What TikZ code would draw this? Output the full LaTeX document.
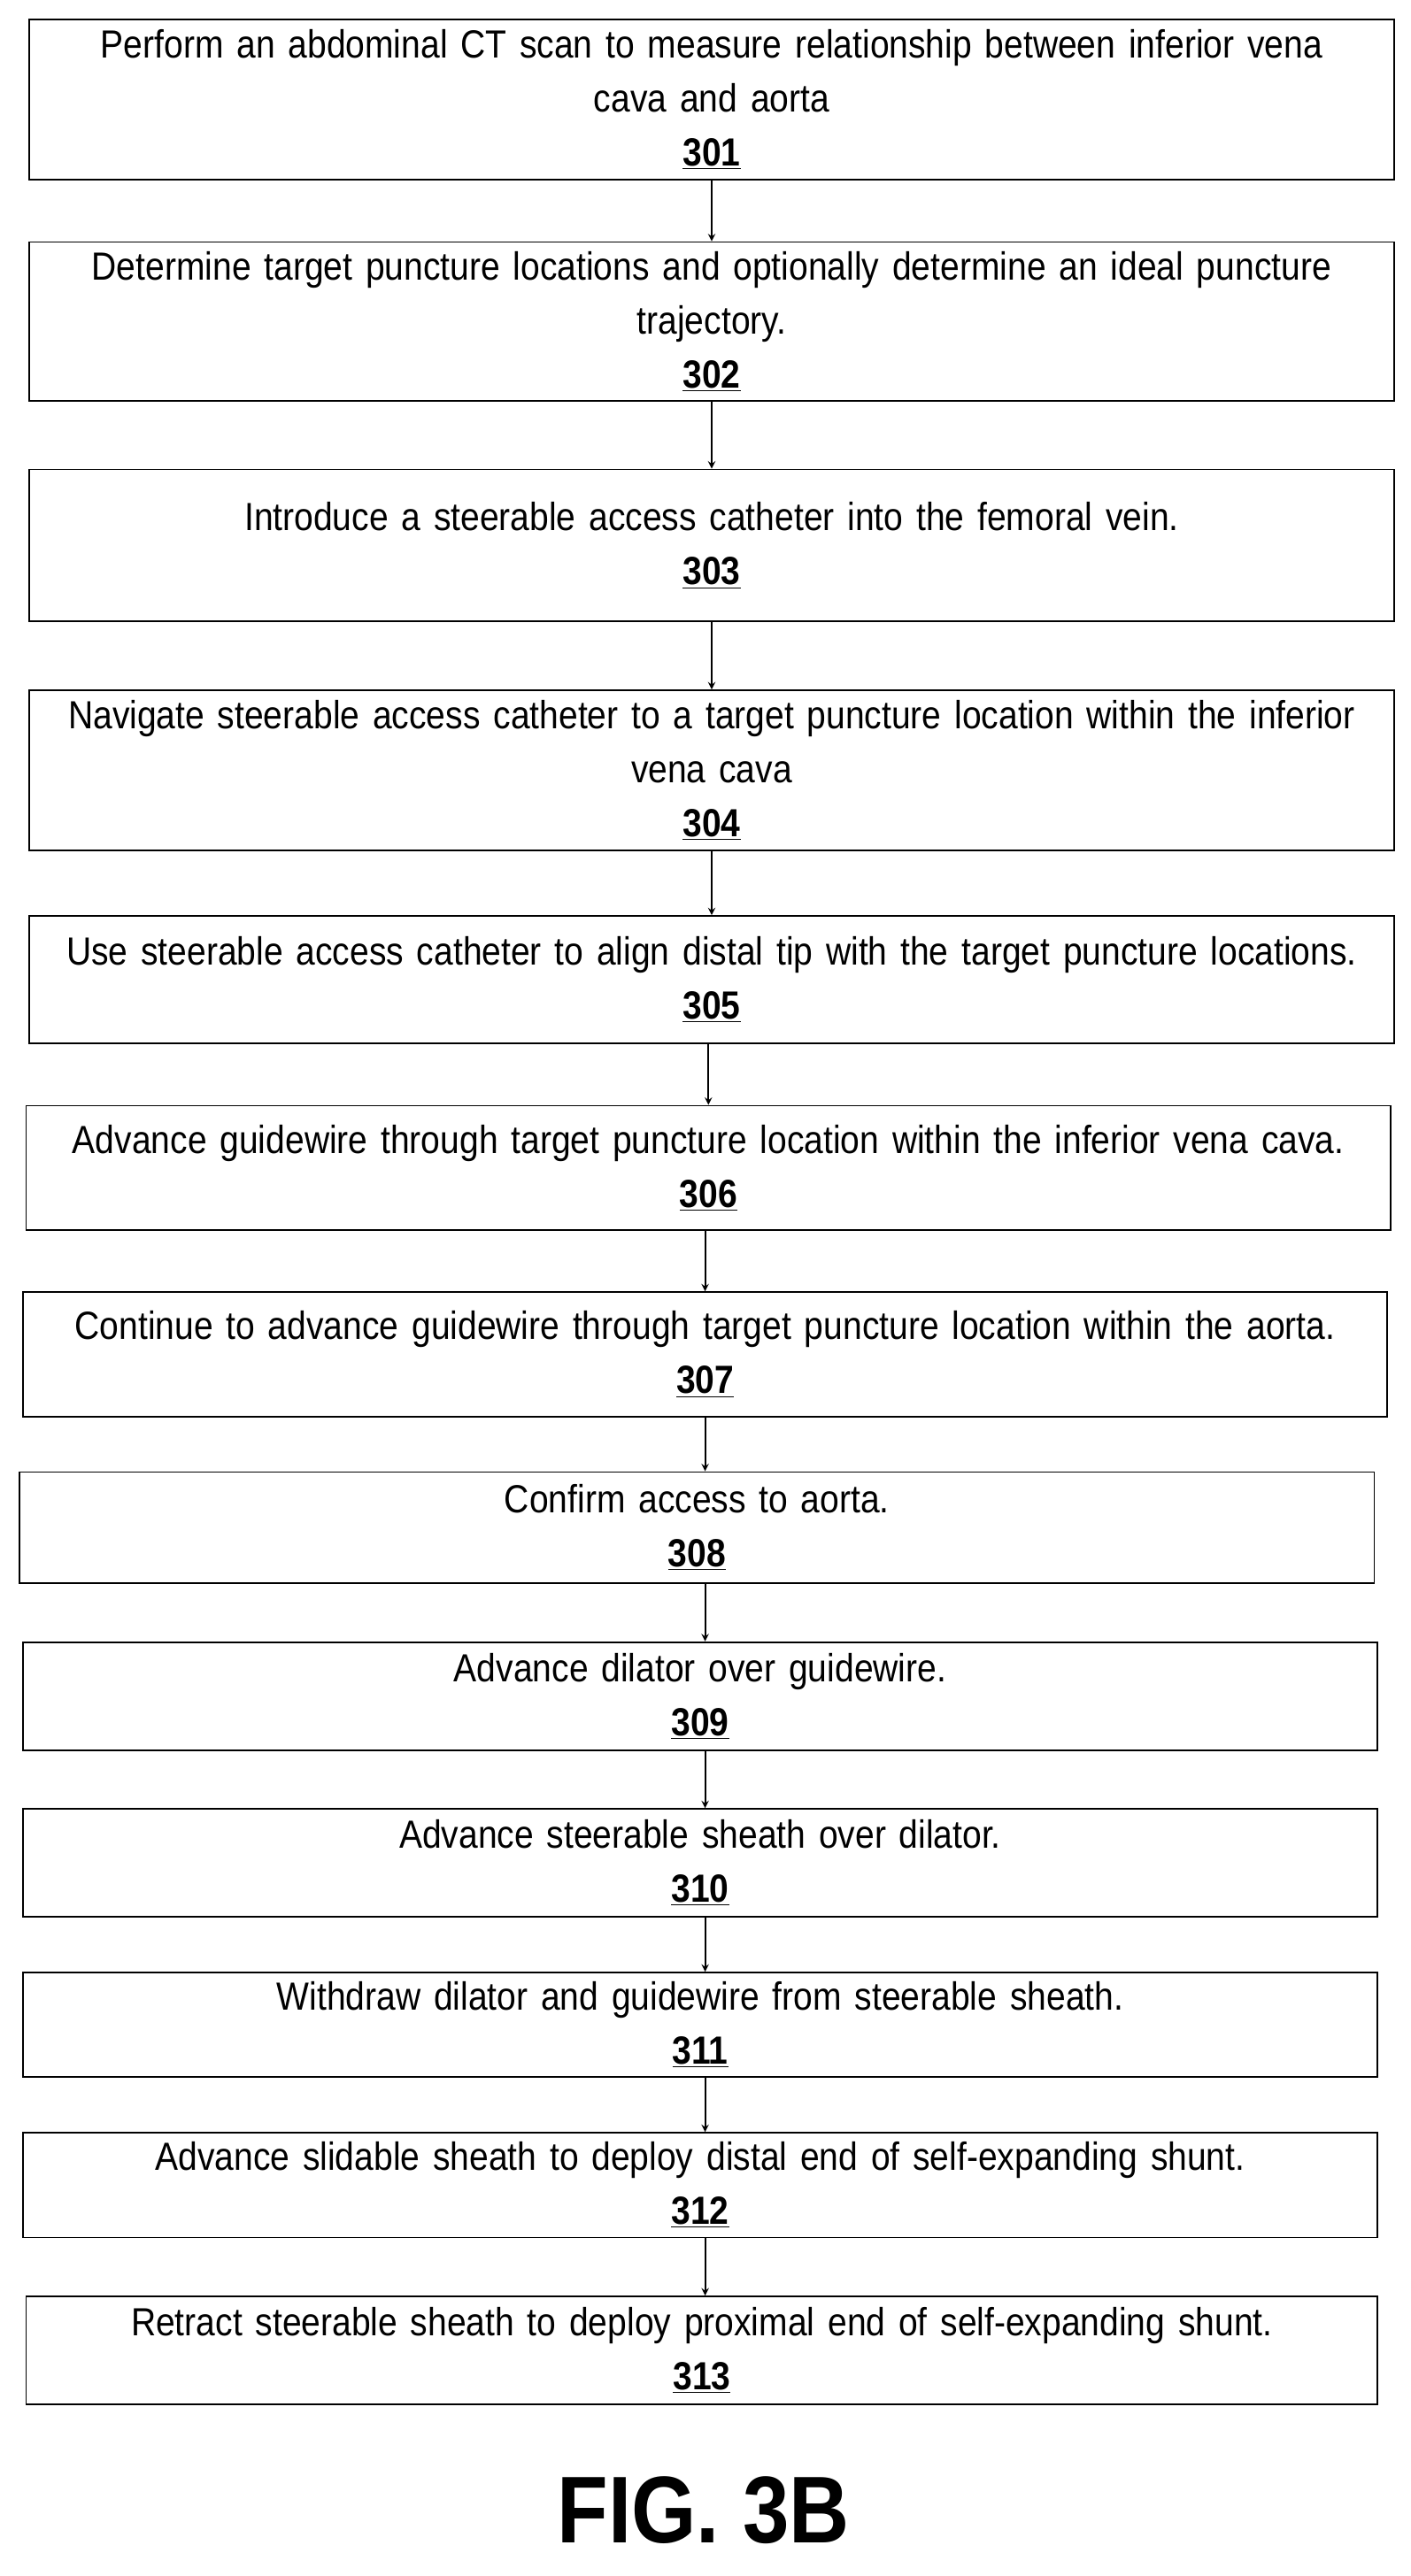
\documentclass[tikz,border=0pt]{standalone}
\usepackage{fontspec}
\setmainfont{Liberation Sans}
\newfontfamily\narrowfont[FakeStretch=0.88]{Liberation Sans}
\usetikzlibrary{positioning}
\tikzset{stepbox/.style={draw, line width=1pt, inner sep=2pt, align=center,
    font=\narrowfont\fontsize{24}{33}\selectfont},
  flow/.style={-stealth, line width=1pt}}
\newcommand{\lab}[1]{\textbf{\underline{#1}}}
\begin{document}
\begin{tikzpicture}[x=1pt, y=-1pt]
    \useasboundingbox (0,0) rectangle (862,1575);
    \node [stepbox, minimum width=834pt, minimum height=98pt, text width=820pt] (s301) at (435,61)
        {Perform an abdominal CT scan to measure relationship between inferior vena\\cava and aorta\\\lab{301}};
    \node [stepbox, minimum width=834pt, minimum height=97pt, text width=820pt] (s302) at (435,196.5)
        {Determine target puncture locations and optionally determine an ideal puncture\\trajectory.\\\lab{302}};
    \node [stepbox, minimum width=834pt, minimum height=93pt, text width=820pt] (s303) at (435,333.5)
        {Introduce a steerable access catheter into the femoral vein.\\\lab{303}};
    \node [stepbox, minimum width=834pt, minimum height=98pt, text width=820pt] (s304) at (435,471)
        {Navigate steerable access catheter to a target puncture location within the inferior\\vena cava\\\lab{304}};
    \node [stepbox, minimum width=834pt, minimum height=78pt, text width=820pt] (s305) at (435,599)
        {Use steerable access catheter to align distal tip with the target puncture locations.\\\lab{305}};
    \node [stepbox, minimum width=834pt, minimum height=76pt, text width=820pt] (s306) at (433,714)
        {Advance guidewire through target puncture location within the inferior vena cava.\\\lab{306}};
    \node [stepbox, minimum width=834pt, minimum height=76pt, text width=820pt] (s307) at (431,828)
        {Continue to advance guidewire through target puncture location within the aorta.\\\lab{307}};
    \node [stepbox, minimum width=828pt, minimum height=68pt, text width=800pt] (s308) at (426,934)
        {Confirm access to aorta.\\\lab{308}};
    \node [stepbox, minimum width=828pt, minimum height=66pt, text width=800pt] (s309) at (428,1037)
        {Advance dilator over guidewire.\\\lab{309}};
    \node [stepbox, minimum width=828pt, minimum height=66pt, text width=800pt] (s310) at (428,1139)
        {Advance steerable sheath over dilator.\\\lab{310}};
    \node [stepbox, minimum width=828pt, minimum height=64pt, text width=800pt] (s311) at (428,1238)
        {Withdraw dilator and guidewire from steerable sheath.\\\lab{311}};
    \node [stepbox, minimum width=828pt, minimum height=64pt, text width=800pt] (s312) at (428,1336)
        {Advance slidable sheath to deploy distal end of self-expanding shunt.\\\lab{312}};
    \node [stepbox, minimum width=826pt, minimum height=66pt, text width=800pt] (s313) at (429,1437)
        {Retract steerable sheath to deploy proximal end of self-expanding shunt.\\\lab{313}};
    \node [font=\narrowfont\bfseries\fontsize{58}{58}\selectfont] (fig) at (430,1535) {FIG. 3B};

    \draw [flow] (s301.south) -- (s301.south |- s302.north);
    \draw [flow] (s302.south) -- (s302.south |- s303.north);
    \draw [flow] (s303.south) -- (s303.south |- s304.north);
    \draw [flow] (s304.south) -- (s304.south |- s305.north);
    \draw [flow] (s306.south |- s305.south) -- (s306.north);
    \draw [flow] (s307.south |- s306.south) -- (s307.north);
    \draw [flow] (s307.south) -- (s307.south |- s308.north);
    \draw [flow] (s307.south |- s308.south) -- (s307.south |- s309.north);
    \draw [flow] (s307.south |- s309.south) -- (s307.south |- s310.north);
    \draw [flow] (s307.south |- s310.south) -- (s307.south |- s311.north);
    \draw [flow] (s307.south |- s311.south) -- (s307.south |- s312.north);
    \draw [flow] (s307.south |- s312.south) -- (s307.south |- s313.north);
\end{tikzpicture}
\end{document}
